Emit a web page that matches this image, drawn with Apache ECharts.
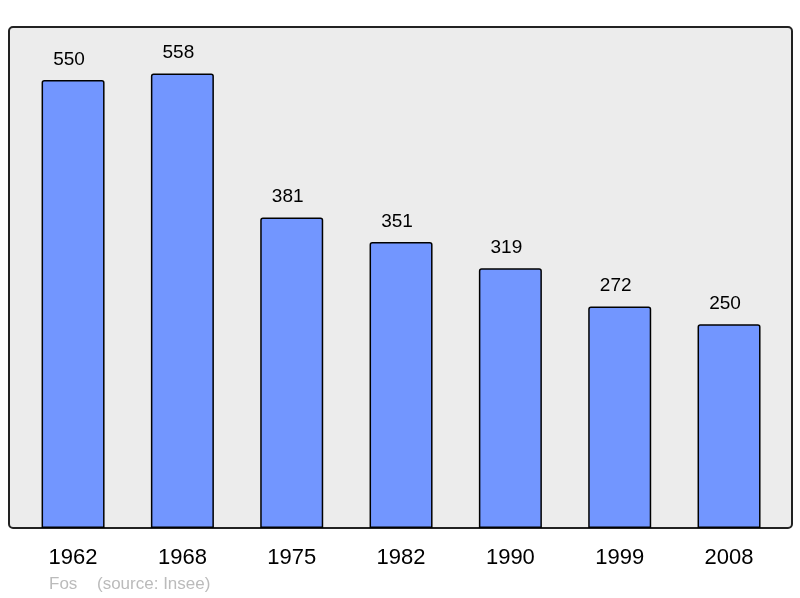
<!DOCTYPE html>
<html lang="fr">
<head>
    <meta charset="UTF-8">
    <title>Fos - population</title>
    <script type="text/javascript" src="https://cdn.jsdelivr.net/npm/echarts@6/dist/echarts.min.js"></script>
    <style>body{margin:0;background:#fff}</style>
</head>
<body>
<div id="main" style="height: 598px; width: 800px"></div>
<script>
    // recensements (Insee)
    let years = ['1962', '1968', '1975', '1982', '1990', '1999', '2008'];
    let population = [550, 558, 381, 351, 319, 272, 250];
    let yMax = 615;

    let myChart = echarts.init(document.getElementById('main'));
    let font = '"Liberation Sans", Arial, sans-serif';
    let option = {
        animation: false,
        grid: {left: 18.4, width: 765.3, top: 27, bottom: 70},
        xAxis: {
            type: 'category', data: years,
            axisLine: {show: false}, axisTick: {show: false},
            axisLabel: {color: '#000', fontSize: 22, fontFamily: font, margin: 19}
        },
        yAxis: {type: 'value', min: 0, max: yMax, show: false},
        series: [{
            type: 'bar',
            data: population,
            barWidth: 63,
            z: 5,
            itemStyle: {color: '#7296ff', borderColor: '#000', borderWidth: 1.5, borderRadius: [2, 2, 0, 0]},
            label: {show: true, position: 'top', distance: 11, offset: [-4, 0],
                    color: '#000', fontSize: 19, fontFamily: font}
        }],
        graphic: [
            // cadre gris
            {type: 'rect', z: -10, shape: {x: 9, y: 27, width: 783, height: 501, r: 4},
             style: {fill: '#ececec', stroke: '#222', lineWidth: 2}},
            {type: 'text', left: 49, top: 576,
             style: {text: 'Fos', fill: '#bbb', font: '17px ' + font}},
            {type: 'text', left: 97, top: 576,
             style: {text: '(source: Insee)', fill: '#bbb', font: '17px ' + font}}
        ]
    };
    myChart.setOption(option);
</script>
</body>
</html>
